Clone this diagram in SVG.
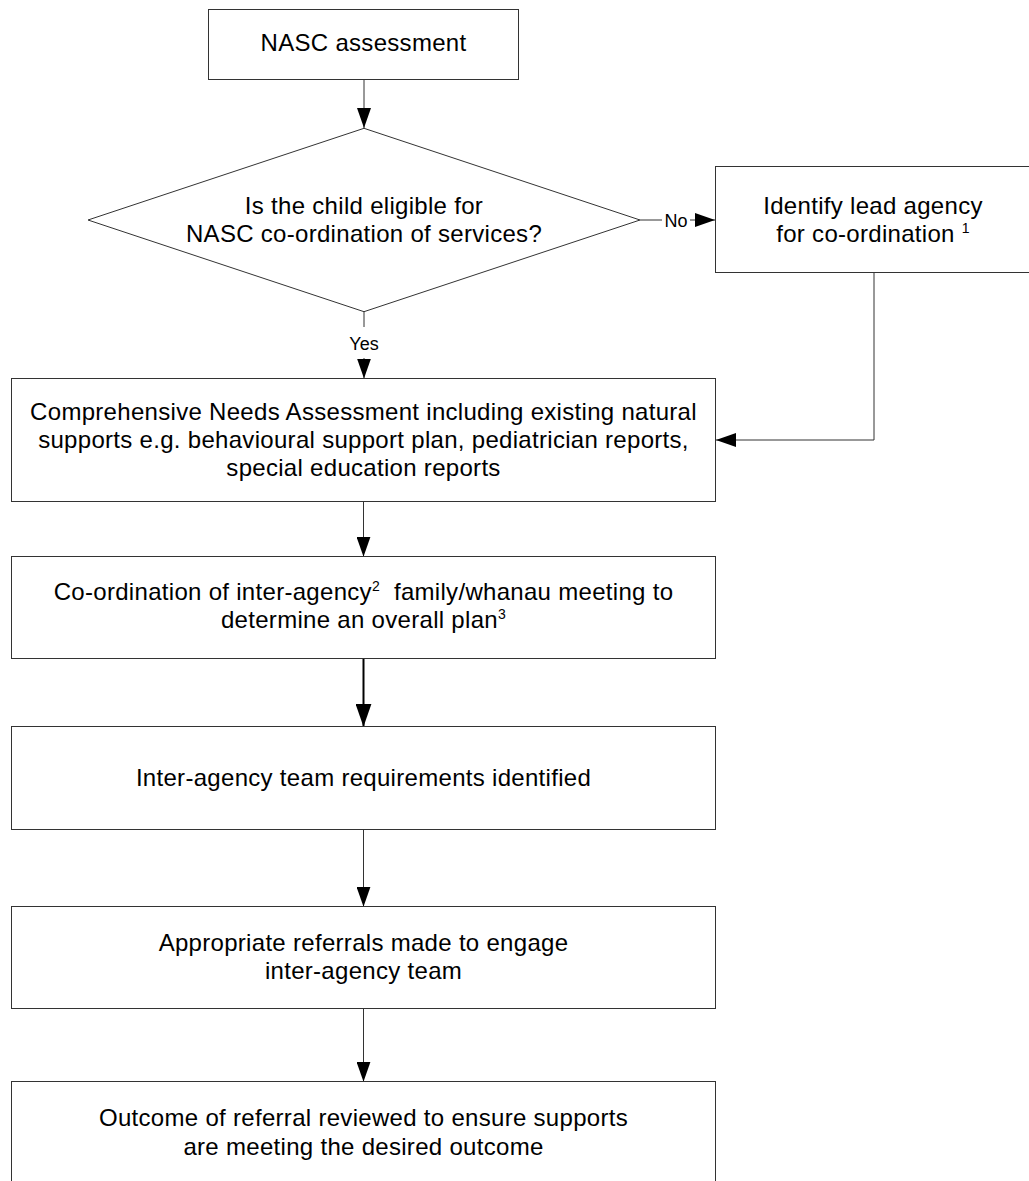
<svg xmlns="http://www.w3.org/2000/svg" width="1029" height="1181" viewBox="0 0 1029 1181">
<style>
.box{fill:#fff;stroke:#333;stroke-width:1}
.t{font-family:"Liberation Sans",Arial,sans-serif;font-size:24px;letter-spacing:0.3px;fill:#000;text-anchor:middle}
.lbl{font-family:"Liberation Sans",Arial,sans-serif;font-size:18px;fill:#000}
.c{fill:none;stroke:#333;stroke-width:1}
.ct{fill:none;stroke:#000;stroke-width:2}
</style>
<defs>
<marker id="arr" markerUnits="userSpaceOnUse" markerWidth="20" markerHeight="14" refX="20" refY="7" orient="auto" viewBox="0 0 20 14">
<path d="M0,0 L20,7 L0,14 z" fill="#000"/>
</marker>
<marker id="arrT" markerUnits="userSpaceOnUse" markerWidth="23" markerHeight="16" refX="23" refY="8" orient="auto" viewBox="0 0 23 16">
<path d="M0,0 L23,8 L0,16 z" fill="#000"/>
</marker>
</defs>
<g id="connectors">
<line class="c" x1="364" y1="79" x2="364" y2="128" marker-end="url(#arr)"/>
<line class="c" x1="364" y1="312" x2="364" y2="327"/>
<text class="lbl" x="364" y="350" text-anchor="middle">Yes</text>
<line class="c" x1="364" y1="358" x2="364" y2="378.5" marker-end="url(#arr)"/>
<line class="c" x1="640" y1="220" x2="662" y2="220"/>
<text class="lbl" x="664.5" y="227">No</text>
<line class="c" x1="690" y1="220" x2="715" y2="220" marker-end="url(#arr)"/>
<polyline class="c" points="874,272.5 874,440 716,440" marker-end="url(#arr)"/>
<line class="c" x1="363.5" y1="501.7" x2="363.5" y2="556.7" marker-end="url(#arr)"/>
<line class="ct" x1="363.5" y1="658.3" x2="363.5" y2="726.7" marker-end="url(#arrT)"/>
<line class="c" x1="363.5" y1="829.3" x2="363.5" y2="906.7" marker-end="url(#arr)"/>
<line class="c" x1="363.5" y1="1008.3" x2="363.5" y2="1081.7" marker-end="url(#arr)"/>
</g>
<g id="n1">
<rect class="box" x="208.5" y="9.5" width="310" height="70"/>
<text class="t" x="363.5" y="51">NASC assessment</text>
</g>
<g id="n2">
<polygon class="box" points="364,128.3 640,220 364,311.7 88,220"/>
<text class="t" x="364" y="213.5">Is the child eligible for</text>
<text class="t" x="364" y="241.5">NASC co-ordination of services?</text>
</g>
<g id="n3">
<rect class="box" x="715.5" y="166.5" width="330" height="106"/>
<text class="t" x="873" y="213.5">Identify lead agency</text>
<text class="t" x="873" y="241.5">for co-ordination <tspan font-size="14" dy="-9">1</tspan></text>
</g>
<g id="n4">
<rect class="box" x="11.5" y="378.5" width="704" height="123"/>
<text class="t" x="363.5" y="419.5">Comprehensive Needs Assessment including existing natural</text>
<text class="t" x="363.5" y="447.5">supports e.g. behavioural support plan, pediatrician reports,</text>
<text class="t" x="363.5" y="475.5">special education reports</text>
</g>
<g id="n5">
<rect class="box" x="11.5" y="556.5" width="704" height="102"/>
<text class="t" x="363.5" y="600"><tspan>Co-ordination of inter-agency</tspan><tspan font-size="14" dy="-9">2</tspan><tspan dy="9">&#160; family/whanau meeting to</tspan></text>
<text class="t" x="363.5" y="628"><tspan>determine an overall plan</tspan><tspan font-size="14" dy="-9">3</tspan></text>
</g>
<g id="n6">
<rect class="box" x="11.5" y="726.5" width="704" height="103"/>
<text class="t" x="363.5" y="786">Inter-agency team requirements identified</text>
</g>
<g id="n7">
<rect class="box" x="11.5" y="906.5" width="704" height="102"/>
<text class="t" x="363.5" y="951">Appropriate referrals made to engage</text>
<text class="t" x="363.5" y="979">inter-agency team</text>
</g>
<g id="n8">
<rect class="box" x="11.5" y="1081.5" width="704" height="130"/>
<text class="t" x="363.5" y="1126">Outcome of referral reviewed to ensure supports</text>
<text class="t" x="363.5" y="1155">are meeting the desired outcome</text>
</g>
</svg>
